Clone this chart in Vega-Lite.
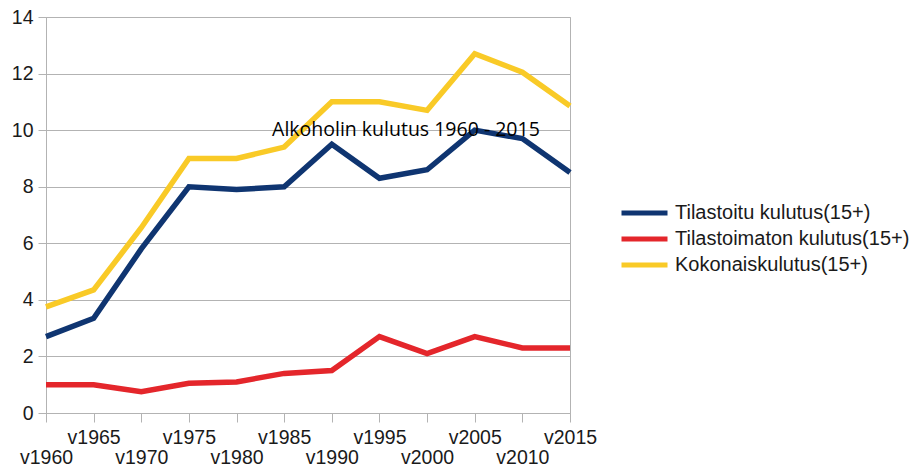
{
  "$schema": "https://vega.github.io/schema/vega-lite/v6.json",
  "width": 524,
  "height": 396,
  "autosize": "none",
  "padding": {"left": 46, "top": 17, "right": 345, "bottom": 53},
  "background": "white",
  "config": {
    "view": {"stroke": "#b3b3b3", "strokeWidth": 1},
    "font": "Liberation Sans"
  },
  "data": {
    "values": [
      {"year": "v1960", "series": "Tilastoitu kulutus(15+)", "value": 2.7},
      {"year": "v1965", "series": "Tilastoitu kulutus(15+)", "value": 3.35},
      {"year": "v1970", "series": "Tilastoitu kulutus(15+)", "value": 5.8},
      {"year": "v1975", "series": "Tilastoitu kulutus(15+)", "value": 8.0},
      {"year": "v1980", "series": "Tilastoitu kulutus(15+)", "value": 7.9},
      {"year": "v1985", "series": "Tilastoitu kulutus(15+)", "value": 8.0},
      {"year": "v1990", "series": "Tilastoitu kulutus(15+)", "value": 9.5},
      {"year": "v1995", "series": "Tilastoitu kulutus(15+)", "value": 8.3},
      {"year": "v2000", "series": "Tilastoitu kulutus(15+)", "value": 8.6},
      {"year": "v2005", "series": "Tilastoitu kulutus(15+)", "value": 10.0},
      {"year": "v2010", "series": "Tilastoitu kulutus(15+)", "value": 9.7},
      {"year": "v2015", "series": "Tilastoitu kulutus(15+)", "value": 8.5},
      {"year": "v1960", "series": "Tilastoimaton kulutus(15+)", "value": 1.0},
      {"year": "v1965", "series": "Tilastoimaton kulutus(15+)", "value": 1.0},
      {"year": "v1970", "series": "Tilastoimaton kulutus(15+)", "value": 0.75},
      {"year": "v1975", "series": "Tilastoimaton kulutus(15+)", "value": 1.05},
      {"year": "v1980", "series": "Tilastoimaton kulutus(15+)", "value": 1.1},
      {"year": "v1985", "series": "Tilastoimaton kulutus(15+)", "value": 1.4},
      {"year": "v1990", "series": "Tilastoimaton kulutus(15+)", "value": 1.5},
      {"year": "v1995", "series": "Tilastoimaton kulutus(15+)", "value": 2.7},
      {"year": "v2000", "series": "Tilastoimaton kulutus(15+)", "value": 2.1},
      {"year": "v2005", "series": "Tilastoimaton kulutus(15+)", "value": 2.7},
      {"year": "v2010", "series": "Tilastoimaton kulutus(15+)", "value": 2.3},
      {"year": "v2015", "series": "Tilastoimaton kulutus(15+)", "value": 2.3},
      {"year": "v1960", "series": "Kokonaiskulutus(15+)", "value": 3.75},
      {"year": "v1965", "series": "Kokonaiskulutus(15+)", "value": 4.35},
      {"year": "v1970", "series": "Kokonaiskulutus(15+)", "value": 6.55},
      {"year": "v1975", "series": "Kokonaiskulutus(15+)", "value": 9.0},
      {"year": "v1980", "series": "Kokonaiskulutus(15+)", "value": 9.0},
      {"year": "v1985", "series": "Kokonaiskulutus(15+)", "value": 9.4},
      {"year": "v1990", "series": "Kokonaiskulutus(15+)", "value": 11.0},
      {"year": "v1995", "series": "Kokonaiskulutus(15+)", "value": 11.0},
      {"year": "v2000", "series": "Kokonaiskulutus(15+)", "value": 10.7},
      {"year": "v2005", "series": "Kokonaiskulutus(15+)", "value": 12.7},
      {"year": "v2010", "series": "Kokonaiskulutus(15+)", "value": 12.05},
      {"year": "v2015", "series": "Kokonaiskulutus(15+)", "value": 10.85}
    ]
  },
  "layer": [
    {
      "mark": {"type": "line", "strokeWidth": 5.5, "strokeJoin": "miter", "strokeCap": "butt"},
      "encoding": {
        "x": {
          "field": "year", "type": "ordinal",
          "scale": {"type": "point", "padding": 0},
          "axis": {
            "title": null, "labelAngle": 0, "grid": false,
            "domainColor": "#b3b3b3", "tickColor": "#b3b3b3", "tickSize": 9,
            "labelFont": "Liberation Sans", "labelFontSize": 19.5, "labelColor": "#1a1a1a",
            "labelBaseline": "middle", "labelOverlap": false, "labelFlush": false,
            "labelPadding": {"expr": "round(datum.index * 11) % 2 === 0 ? 35 : 15"}
          }
        },
        "y": {
          "field": "value", "type": "quantitative",
          "scale": {"domain": [0, 14], "nice": false},
          "axis": {
            "title": null, "values": [0, 2, 4, 6, 8, 10, 12, 14],
            "gridColor": "#b3b3b3", "domainColor": "#b3b3b3", "tickColor": "#b3b3b3", "tickSize": 8,
            "labelFont": "Liberation Sans", "labelFontSize": 19.5, "labelColor": "#1a1a1a", "labelPadding": 5
          }
        },
        "color": {
          "field": "series", "type": "nominal",
          "scale": {
            "domain": ["Tilastoitu kulutus(15+)", "Tilastoimaton kulutus(15+)", "Kokonaiskulutus(15+)"],
            "range": ["#0f3571", "#e4262b", "#f9ca27"]
          },
          "legend": {
            "title": null, "orient": "none", "legendX": 584.5, "legendY": 182, "padding": 0,
            "symbolType": "M-2,0L2,0", "symbolSize": 529, "symbolStrokeWidth": 5,
            "labelFont": "Liberation Sans", "labelFontSize": 20, "labelColor": "#1a1a1a",
            "labelOffset": 16.5, "rowPadding": 2, "labelLimit": 400
          }
        }
      }
    },
    {
      "data": {"values": [{"label": "Alkoholin kulutus 1960 - 2015"}]},
      "mark": {"type": "text", "font": "Open Sans", "fontSize": 19.5, "color": "#000000", "align": "center", "baseline": "middle", "dx": 26.5},
      "encoding": {
        "x": {"datum": "v1995", "type": "ordinal"},
        "y": {"datum": 10.0, "type": "quantitative"},
        "text": {"field": "label", "type": "nominal"}
      }
    }
  ]
}
